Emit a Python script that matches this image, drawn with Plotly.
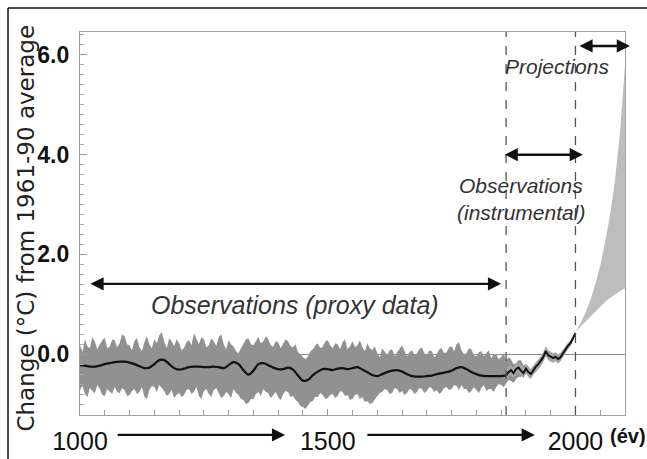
import numpy as np
import plotly.graph_objects as go

# ---------------- data ----------------
proxy_years = list(range(1000, 1905, 5))
proxy_upper = [0.18, 0.05, 0.30, 0.16, 0.12, 0.34, 0.25, 0.10, 0.20, 0.28, 0.33, 0.12, 0.15, 0.30, 0.28, 0.14, 0.22, 0.40, 0.36, 0.20,
               0.18, 0.08, 0.27, 0.32, 0.14, 0.06, 0.24, 0.36, 0.20, 0.12, 0.30, 0.22, 0.38, 0.44, 0.25, 0.12, 0.32, 0.26, 0.16, 0.30,
               0.22, 0.08, 0.13, 0.24, 0.28, 0.18, 0.42, 0.30, 0.20, 0.34, 0.30, 0.14, 0.18, 0.32, 0.26, 0.16, 0.34, 0.40, 0.20, 0.10,
               0.28, 0.20, 0.15, 0.06, 0.02, 0.12, 0.22, 0.30, 0.32, 0.20, 0.18, 0.28, 0.35, 0.22, 0.26, 0.36, 0.30, 0.18, 0.15, 0.26,
               0.24, 0.12, 0.20, 0.30, 0.26, 0.16, 0.14, 0.20, 0.04, 0.00, -0.06, -0.10, -0.04, 0.06, 0.10, 0.18, 0.22, 0.12, 0.15, 0.26,
               0.28, 0.18, 0.12, 0.22, 0.20, 0.10, 0.24, 0.30, 0.10, 0.16, 0.26, 0.14, 0.18, 0.28, 0.14, 0.06, 0.22, 0.12, 0.08, 0.16,
               0.02, -0.06, 0.12, 0.04, -0.02, 0.08, 0.10, -0.04, 0.04, 0.12, 0.18, 0.06, -0.04, 0.04, 0.08, -0.02, 0.02, 0.10, 0.14, 0.02,
               -0.02, 0.08, 0.06, -0.06, 0.00, 0.10, 0.12, 0.02, 0.04, 0.14, 0.16, 0.06, 0.20, 0.24, 0.08, 0.00, 0.02, 0.12, 0.10, -0.02,
               -0.04, 0.04, 0.06, -0.04, 0.02, 0.08, -0.08, 0.00, 0.00, -0.10, -0.06, 0.02, -0.12, -0.06, -0.10, -0.20, -0.18, -0.12, -0.12, -0.22,
               -0.20]
proxy_lower = [-0.72, -0.64, -0.80, -0.86, -0.68, -0.74, -0.78, -0.62, -0.70, -0.82, -0.84, -0.70, -0.74, -0.80, -0.66, -0.76, -0.78, -0.68, -0.72, -0.84,
               -0.82, -0.74, -0.70, -0.80, -0.76, -0.66, -0.86, -0.90, -0.72, -0.64, -0.66, -0.76, -0.62, -0.68, -0.74, -0.84, -0.80, -0.72, -0.88, -0.82,
               -0.78, -0.86, -0.82, -0.72, -0.70, -0.80, -0.76, -0.66, -0.84, -0.90, -0.74, -0.70, -0.80, -0.86, -0.72, -0.68, -0.78, -0.88, -0.84, -0.76,
               -0.80, -0.88, -0.70, -0.78, -0.82, -0.90, -0.92, -1.00, -0.98, -0.90, -0.90, -0.80, -0.76, -0.84, -0.70, -0.76, -0.78, -0.88, -0.82, -0.76,
               -0.86, -0.92, -0.80, -0.74, -0.76, -0.86, -0.84, -0.92, -0.96, -1.04, -1.06, -1.10, -1.02, -0.96, -0.94, -0.86, -0.86, -0.78, -0.82, -0.90,
               -0.88, -0.82, -0.80, -0.88, -0.84, -0.74, -0.76, -0.84, -0.82, -0.92, -0.90, -0.82, -0.80, -0.90, -0.86, -0.96, -0.94, -1.00, -0.98, -0.90,
               -0.84, -0.78, -0.76, -0.70, -0.72, -0.80, -0.78, -0.68, -0.70, -0.78, -0.74, -0.82, -0.78, -0.70, -0.72, -0.80, -0.76, -0.68, -0.70, -0.78,
               -0.74, -0.66, -0.68, -0.76, -0.72, -0.80, -0.76, -0.68, -0.66, -0.72, -0.70, -0.62, -0.64, -0.72, -0.62, -0.70, -0.70, -0.78, -0.74, -0.66,
               -0.72, -0.78, -0.68, -0.62, -0.74, -0.70, -0.70, -0.76, -0.66, -0.60, -0.62, -0.66, -0.58, -0.52, -0.54, -0.58, -0.50, -0.46, -0.46, -0.40,
               -0.42]

proxy_line_years = list(range(1000, 1870, 10))
proxy_line = [-0.22, -0.23, -0.25, -0.25, -0.23, -0.20, -0.18, -0.16, -0.15, -0.15,
              -0.17, -0.20, -0.24, -0.28, -0.27, -0.20, -0.12, -0.12, -0.20, -0.28,
              -0.31, -0.29, -0.26, -0.25, -0.25, -0.26, -0.26, -0.25, -0.26, -0.28,
              -0.22, -0.16, -0.20, -0.32, -0.41, -0.33, -0.20, -0.18, -0.22, -0.27,
              -0.30, -0.30, -0.27, -0.31, -0.43, -0.53, -0.52, -0.42, -0.35, -0.30,
              -0.30, -0.32, -0.29, -0.28, -0.30, -0.28, -0.26, -0.31, -0.36, -0.42,
              -0.44, -0.40, -0.36, -0.33, -0.32, -0.35, -0.40, -0.44, -0.45, -0.45,
              -0.44, -0.43, -0.40, -0.38, -0.36, -0.33, -0.28, -0.26, -0.30, -0.36,
              -0.40, -0.43, -0.44, -0.44, -0.44, -0.44, -0.43]

inst_years = list(range(1860, 2005, 5))
inst_line = [-0.43, -0.36, -0.32, -0.38, -0.30, -0.27, -0.33, -0.38, -0.29, -0.36,
             -0.40, -0.32, -0.25, -0.20, -0.14, -0.06, 0.06, -0.02, -0.05, -0.08,
             -0.05, -0.10, -0.06, 0.02, 0.10, 0.17, 0.22, 0.32, 0.42]
inst_upper = [-0.33, -0.24, -0.22, -0.28, -0.18, -0.17, -0.22, -0.27, -0.19, -0.25,
              -0.30, -0.22, -0.15, -0.10, -0.04, 0.04, 0.16, 0.08, 0.05, 0.02,
              0.04, 0.00, 0.03, 0.10, 0.17, 0.23, 0.28, 0.37, 0.45]
inst_lower = [-0.53, -0.46, -0.42, -0.48, -0.40, -0.37, -0.43, -0.48, -0.39, -0.46,
              -0.50, -0.42, -0.35, -0.30, -0.24, -0.16, -0.04, -0.12, -0.15, -0.17,
              -0.14, -0.19, -0.14, -0.06, 0.03, 0.10, 0.16, 0.27, 0.40]

proj_years = [2000, 2010, 2020, 2030, 2040, 2050, 2060, 2070, 2080, 2090, 2100]
proj_upper = [0.45, 0.62, 0.82, 1.08, 1.40, 1.78, 2.25, 2.80, 3.50, 4.45, 5.80]
proj_lower = [0.45, 0.55, 0.65, 0.75, 0.85, 0.95, 1.05, 1.13, 1.20, 1.26, 1.32]

period_bounds = [1860, 2000]
x_tick_vals = [1000, 1500, 2000]
x_tick_text = ["1000", "1500", "2000"]
y_tick_vals = [0, 2, 4, 6]
y_tick_text = ["0.0", "2.0", "4.0", "6.0"]

FONT = "Liberation Sans, Arial, sans-serif"

fig = go.Figure()

# proxy uncertainty band
fig.add_trace(go.Scatter(
    x=np.concatenate([proxy_years, proxy_years[::-1]]),
    y=np.concatenate([proxy_upper, proxy_lower[::-1]]),
    fill="toself", fillcolor="#919191", line=dict(width=0),
    mode="lines", hoverinfo="skip", showlegend=False))
# instrumental band
fig.add_trace(go.Scatter(
    x=np.concatenate([inst_years, inst_years[::-1]]),
    y=np.concatenate([inst_upper, inst_lower[::-1]]),
    fill="toself", fillcolor="#a6a6a6", line=dict(width=0),
    mode="lines", hoverinfo="skip", showlegend=False))
# projection fan
fig.add_trace(go.Scatter(
    x=np.concatenate([proj_years, proj_years[::-1]]),
    y=np.concatenate([proj_upper, proj_lower[::-1]]),
    fill="toself", fillcolor="#bdbdbd", line=dict(width=0),
    mode="lines", hoverinfo="skip", showlegend=False))
# lines
fig.add_trace(go.Scatter(x=proxy_line_years, y=proxy_line, mode="lines",
                         line=dict(color="#111111", width=2.2, shape="spline", smoothing=1.0),
                         showlegend=False))
fig.add_trace(go.Scatter(x=inst_years, y=inst_line, mode="lines",
                         line=dict(color="#111111", width=2.0),
                         showlegend=False))

# dashed period boundaries
for xb in period_bounds:
    fig.add_shape(type="line", xref="x", yref="paper", x0=xb, x1=xb, y0=0, y1=1,
                  line=dict(color="#555555", width=1.3, dash="dash"))

# outer frame (top and left)
fig.add_shape(type="line", xref="paper", yref="paper", x0=-0.1321, x1=1.05, y0=1.0627, y1=1.0627,
              line=dict(color="#111111", width=1.5))
fig.add_shape(type="line", xref="paper", yref="paper", x0=-0.1321, x1=-0.1321, y0=1.0627, y1=-0.2,
              line=dict(color="#111111", width=1.5))

def darrow(x0, x1, y):
    fig.add_annotation(x=x1, y=y, ax=x0, ay=y, xref="x", yref="y", axref="x", ayref="y",
                       text="", showarrow=True, arrowhead=2, arrowside="end+start",
                       arrowsize=1.1, arrowwidth=2.4, arrowcolor="#111111")

def sarrow(x0, x1, ypaper):
    fig.add_annotation(x=x1, y=ypaper, ax=x0, ay=0, xref="x", yref="paper", axref="x", ayref="pixel",
                       text="", showarrow=True, arrowhead=2, arrowside="end",
                       arrowsize=1.1, arrowwidth=2.4, arrowcolor="#111111")

darrow(1018, 1850, 1.41)
darrow(1854, 2015, 4.0)
darrow(2005, 2110, 6.18)
sarrow(1073, 1414, -0.052)
sarrow(1577, 1918, -0.052)

def label(text, x, y, size, italic=True, color="#333333"):
    t = "<i>" + text + "</i>" if italic else text
    fig.add_annotation(x=x, y=y, xref="x", yref="y", text=t, showarrow=False,
                       font=dict(family=FONT, size=size, color=color))

label("Observations (proxy data)", 1434, 0.98, 25)
label("Observations", 1890, 3.39, 21)
label("(instrumental)", 1891, 2.85, 21)
label("Projections", 1963, 5.76, 21)

fig.add_annotation(x=1.0055, y=-0.055, xref="paper", yref="paper", text="<b>(év)</b>",
                   xanchor="center", yanchor="middle",
                   showarrow=False, font=dict(family=FONT, size=20, color="#111111"))

# y title
fig.add_annotation(x=-0.1265, y=0.487, xref="paper", yref="paper",
                   text="Change (°C) from 1961-90 average", textangle=-90, showarrow=False,
                   font=dict(family="DejaVu Sans, sans-serif", size=23, color="#222222"))

fig.update_xaxes(range=[1000, 2100], tickvals=x_tick_vals, ticktext=x_tick_text,
                 ticks="inside", ticklen=6, tickcolor="#999999",
                 minor=dict(tick0=1000, dtick=50, ticks="inside", ticklen=5, tickcolor="#999999"),
                 showgrid=False, zeroline=False, showline=True, linecolor="#a0a0a0", linewidth=1.2,
                 mirror=True, ticklabelstandoff=4, automargin=False,
                 tickfont=dict(family=FONT, size=25, color="#111111"))
fig.update_yaxes(range=[-1.22, 6.46], tickvals=y_tick_vals, ticktext=y_tick_text,
                 ticks="inside", ticklen=7, tickcolor="#999999",
                 minor=dict(tick0=0, dtick=0.2, ticks="inside", ticklen=4, tickcolor="#aaaaaa"),
                 showgrid=False, zeroline=True, zerolinecolor="#8a8a8a", zerolinewidth=1.2,
                 showline=True, linecolor="#a0a0a0", linewidth=1.2, mirror=True,
                 ticklabelstandoff=5, automargin=False,
                 tickfont=dict(family=FONT, size=23, color="#111111", weight="bold"))

fig.update_layout(width=647, height=459, margin=dict(l=80, r=22, t=32, b=44),
                  paper_bgcolor="white", plot_bgcolor="white", showlegend=False)

fig.write_html("out.html", config={"displayModeBar": False},
               post_script="document.body.style.margin='0';document.body.style.padding='0';")
